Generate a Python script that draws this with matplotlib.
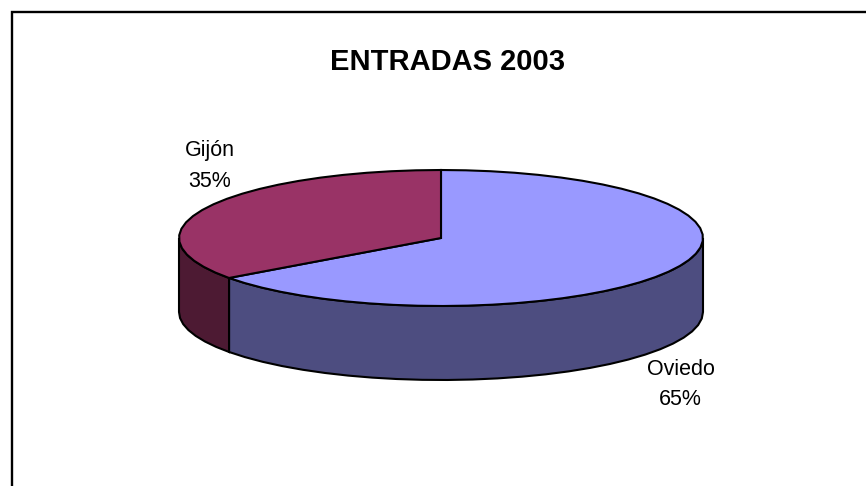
"""ENTRADAS 2003 - tarta 3D dibujada a mano con polygons."""
import numpy as np
import matplotlib
matplotlib.use("Agg")
import matplotlib.pyplot as plt
from matplotlib.patches import Polygon

plt.rcParams["font.family"] = ["Liberation Sans", "DejaVu Sans"]

TITLE = "ENTRADAS 2003"
CITIES = ["Oviedo", "Gijón"]
VALUES = [65, 35]
TOP_COLORS = ["#9999ff", "#993366"]
SIDE_COLORS = ["#4d4d80", "#4d1a33"]

# geometria en pixeles de la imagen
CX, CY = 441, 238
RX, RY = 262, 68
DEPTH = 74
STEP = 5.5  # grados, polilinea gruesa como el original


def rim(a0, a1, dy=0.0):
    """Puntos del borde, angulo en grados desde las 12 en sentido horario."""
    n = max(2, int(round(abs(a1 - a0) / STEP)) + 1)
    a = np.radians(np.linspace(a0, a1, n))
    return np.column_stack([CX + RX * np.sin(a), CY - RY * np.cos(a) + dy])


fig = plt.figure(figsize=(8.66, 4.86), dpi=100, facecolor="white")
ax = fig.add_axes([0, 0, 1, 1])
ax.set_xlim(0, 866)
ax.set_ylim(486, 0)
ax.axis("off")

# marco: solo arriba e izquierda llegan a verse
ax.plot([12, 12, 866], [486, 12.5, 12.5], color="black", lw=1.7,
        solid_joinstyle="miter", zorder=1)

total = sum(VALUES)
edges = np.cumsum([0] + VALUES) / total * 360.0
LW = 1.5

# paredes laterales: visibles entre 90 y 270 grados
for i in range(len(VALUES)):
    a0, a1 = max(edges[i], 90.0), min(edges[i + 1], 270.0)
    if a1 <= a0:
        continue
    upper = rim(a0, a1)
    lower = rim(a0, a1, DEPTH)
    ax.add_patch(Polygon(np.vstack([upper, lower[::-1]]), closed=True,
                         facecolor=SIDE_COLORS[i], edgecolor="black",
                         lw=LW, zorder=2))

# caras superiores
for i in range(len(VALUES)):
    pts = np.vstack([[[CX, CY]], rim(edges[i], edges[i + 1])])
    ax.add_patch(Polygon(pts, closed=True, facecolor=TOP_COLORS[i],
                         edgecolor="black", lw=LW, zorder=3))

ax.text(447, 62.5, TITLE, fontsize=21, fontweight="bold", ha="center",
        va="center", color="black")
ax.text(681, 369, f"{CITIES[0]}", fontsize=15.5, ha="center", va="center")
ax.text(680, 399, f"{VALUES[0]}%", fontsize=15.5, ha="center", va="center")
ax.text(210, 150, f"{CITIES[1]}", fontsize=15.5, ha="center", va="center")
ax.text(210, 181, f"{VALUES[1]}%", fontsize=15.5, ha="center", va="center")

fig.savefig("out.png", dpi=100, facecolor="white")
